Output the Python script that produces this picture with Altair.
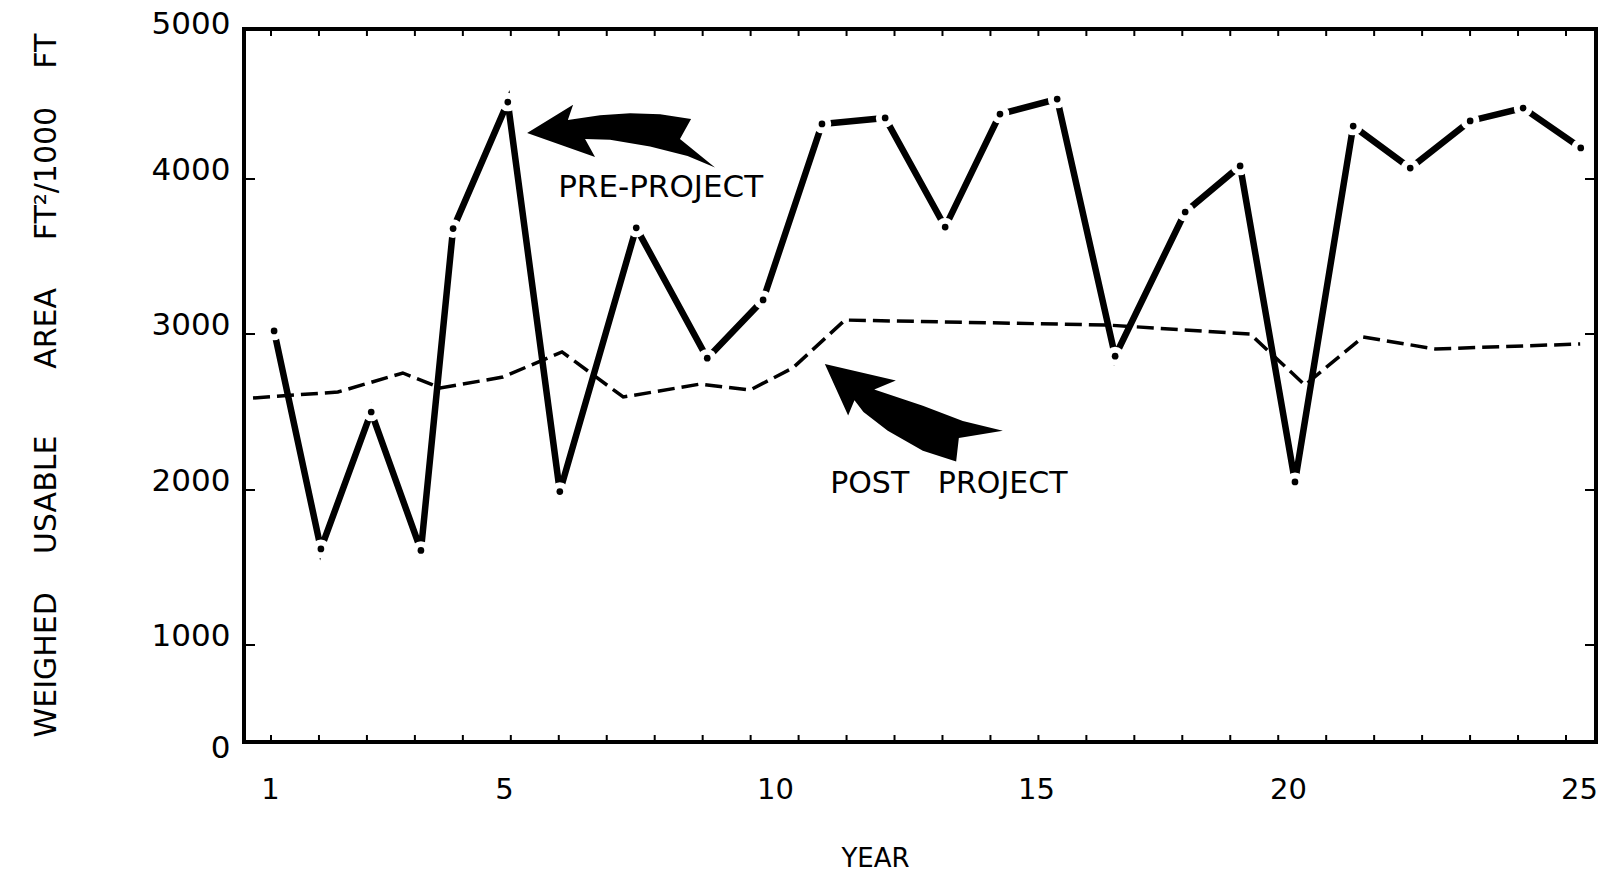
import altair as alt
import pandas as pd

FONT = "DejaVu Sans"

# ---- data ----
pre_year = [1.07, 1.87, 2.73, 3.58, 4.13, 5.07, 6.03, 7.44, 8.75, 9.78, 10.90, 12.11,
            13.26, 14.31, 15.42, 16.57, 17.96, 19.05, 20.12, 21.12, 22.10, 23.13, 24.04, 25.03]
pre_area = [3020, 1620, 2500, 1610, 3680, 4513, 1990, 3685, 2845, 3220, 4367, 4407,
            3690, 4433, 4533, 2858, 3787, 4087, 2052, 4353, 4073, 4387, 4473, 4207]

post_year = [0.71, 2.16, 3.27, 3.91, 4.98, 6.07, 7.20, 8.62, 9.54, 10.34, 11.34,
             16.41, 19.25, 20.29, 21.29, 22.53, 25.02]
post_area = [2590, 2628, 2750, 2654, 2724, 2885, 2596, 2679, 2641, 2782, 3090,
             3058, 3000, 2673, 2981, 2904, 2936]

x_tick_labels = [1, 5, 10, 15, 20, 25]
y_tick_labels = [0, 1000, 2000, 3000, 4000, 5000]
y_inner_ticks = [1000, 2000, 3000, 4000]
minor_ticks = list(range(28))

label_text = ["PRE-PROJECT", "POST\u00a0\u00a0\u00a0PROJECT"]
label_year = [7.89, 13.33]
label_area = [3955, 2052]

arrow_year = [7.16, 12.66]
arrow_area = [4280, 2506]

NB = "\u00a0"
Y_TITLE = ("WEIGHED" + NB * 4 + "USABLE" + NB * 7 + "AREA" + NB * 5
           + "FT\u00b2/1000" + NB * 4 + "FT")

# ---- layout (hand-drawn, piecewise axes) ----
W, H = 1352, 713
x_scale = alt.Scale(domain=x_tick_labels, range=[26, 260, 531, 792, 1044, 1335],
                    nice=False, zero=False)
y_scale = alt.Scale(domain=y_tick_labels, range=[713, 616, 461, 305, 150, 0],
                    nice=False, zero=False)
minor_scale = alt.Scale(domain=[0, 27], range=[27, 1322], nice=False, zero=False)

pre_df = pd.DataFrame({"year": pre_year, "area": pre_area})
post_df = pd.DataFrame({"year": post_year, "area": post_area})
minor_df = pd.DataFrame({"t": minor_ticks})
ytick_df = pd.DataFrame({"v": y_inner_ticks})

x_axis = alt.Axis(orient="bottom", values=x_tick_labels, title="YEAR", domain=False, ticks=False,
                  grid=False, labelFont=FONT, labelFontSize=29, labelColor="black", labelPadding=33,
                  labelFlush=False, labelOverlap=False, format="d",
                  titleFont=FONT, titleFontSize=26, titleFontWeight="normal", titleColor="black",
                  titleX=631, titleY=116, titleBaseline="middle", titleAlign="center")
y_axis = alt.Axis(orient="left", values=y_tick_labels, title=Y_TITLE, domain=False, ticks=False,
                  grid=False, labelFont=FONT, labelFontSize=31, labelColor="black", labelPadding=14,
                  labelFlush=False, labelOverlap=False, format="d",
                  labelOffset={"condition": {"test": "datum.value == 5000", "value": -5},
                               "value": -9},
                  labelBaseline={"condition": {"test": "datum.value == 0", "value": "top"},
                                 "value": "middle"},
                  titleFont=FONT, titleFontSize=30, titleFontWeight="normal", titleColor="black",
                  titleX=-198, titleY=356, titleBaseline="middle", titleAlign="center")

def X(field="year", axis=None):
    return alt.X(f"{field}:Q", scale=x_scale, axis=axis)

def Y(field="area", axis=None):
    return alt.Y(f"{field}:Q", scale=y_scale, axis=axis)

solid = alt.Chart(pre_df).mark_line(color="black", strokeWidth=6.5).encode(
    x=X(axis=x_axis), y=Y(axis=y_axis))
halo = alt.Chart(pre_df).mark_point(filled=True, color="white", size=346, opacity=1).encode(
    x=X(), y=Y())
dots = alt.Chart(pre_df).mark_point(filled=True, color="black", size=45, opacity=1).encode(
    x=X(), y=Y())
dashed = alt.Chart(post_df).mark_line(color="black", strokeWidth=3.5, strokeDash=[17, 7]).encode(
    x=X(), y=Y())

minor_top = alt.Chart(minor_df).mark_rule(color="black", strokeWidth=2).encode(
    x=alt.X("t:Q", scale=minor_scale, axis=None), y=alt.value(0), y2=alt.value(7))
minor_bot = alt.Chart(minor_df).mark_rule(color="black", strokeWidth=2).encode(
    x=alt.X("t:Q", scale=minor_scale, axis=None), y=alt.value(H - 7), y2=alt.value(H))

ytick_left = alt.Chart(ytick_df).mark_rule(color="black", strokeWidth=2).encode(
    y=Y("v"), x=alt.value(0), x2=alt.value(11))
ytick_right = alt.Chart(ytick_df).mark_rule(color="black", strokeWidth=2).encode(
    y=Y("v"), x=alt.value(W - 11), x2=alt.value(W))

pre_arrow_path = ("M -0.989 -0.042 L -0.505 -0.340 L -0.560 -0.180 L -0.221 -0.230 "
                  "L 0.095 -0.250 L 0.411 -0.240 L 0.737 -0.190 L 0.620 0.020 "
                  "L 0.989 0.320 L 0.700 0.200 L 0.305 0.100 L -0.116 0.030 "
                  "L -0.379 0.020 L -0.274 0.210 Z")
post_arrow_path = ("M -0.989 -0.522 L -0.200 -0.340 L -0.440 -0.240 L 0.100 -0.060 "
                   "L 0.544 0.110 L 0.989 0.220 L 0.500 0.300 L 0.470 0.560 "
                   "L 0.100 0.440 L -0.290 0.220 L -0.560 0.010 L -0.660 -0.120 "
                   "L -0.730 0.050 Z")

pre_arrow = alt.Chart(pd.DataFrame({"year": [arrow_year[0]], "area": [arrow_area[0]]})).mark_point(
    shape=pre_arrow_path, filled=True, color="black", size=190 * 190, opacity=1, strokeWidth=0
).encode(x=X(), y=Y())
post_arrow = alt.Chart(pd.DataFrame({"year": [arrow_year[1]], "area": [arrow_area[1]]})).mark_point(
    shape=post_arrow_path, filled=True, color="black", size=180 * 180, opacity=1, strokeWidth=0
).encode(x=X(), y=Y())

pre_label = alt.Chart(pd.DataFrame({"year": [label_year[0]], "area": [label_area[0]],
                                    "t": [label_text[0]]})).mark_text(
    font=FONT, fontSize=31, color="black", align="center", baseline="middle", dy=2
).encode(x=X(), y=Y(), text="t:N")
post_label = alt.Chart(pd.DataFrame({"year": [label_year[1]], "area": [label_area[1]],
                                     "t": [label_text[1]]})).mark_text(
    font=FONT, fontSize=30, color="black", align="center", baseline="middle", dy=2
).encode(x=X(), y=Y(), text="t:N")

chart = alt.layer(
    solid, minor_top, minor_bot, ytick_left, ytick_right,
    halo, dashed, dots, pre_arrow, post_arrow, pre_label, post_label
).resolve_scale(x="independent", y="independent").properties(
    width=W, height=H,
    autosize=alt.AutoSizeParams(type="none"),
    padding={"left": 236, "top": 21, "right": 2, "bottom": 128},
    background="white",
).configure_view(stroke="black", strokeWidth=4)

chart.save("out.html", embed_options={"renderer": "svg", "actions": False})
